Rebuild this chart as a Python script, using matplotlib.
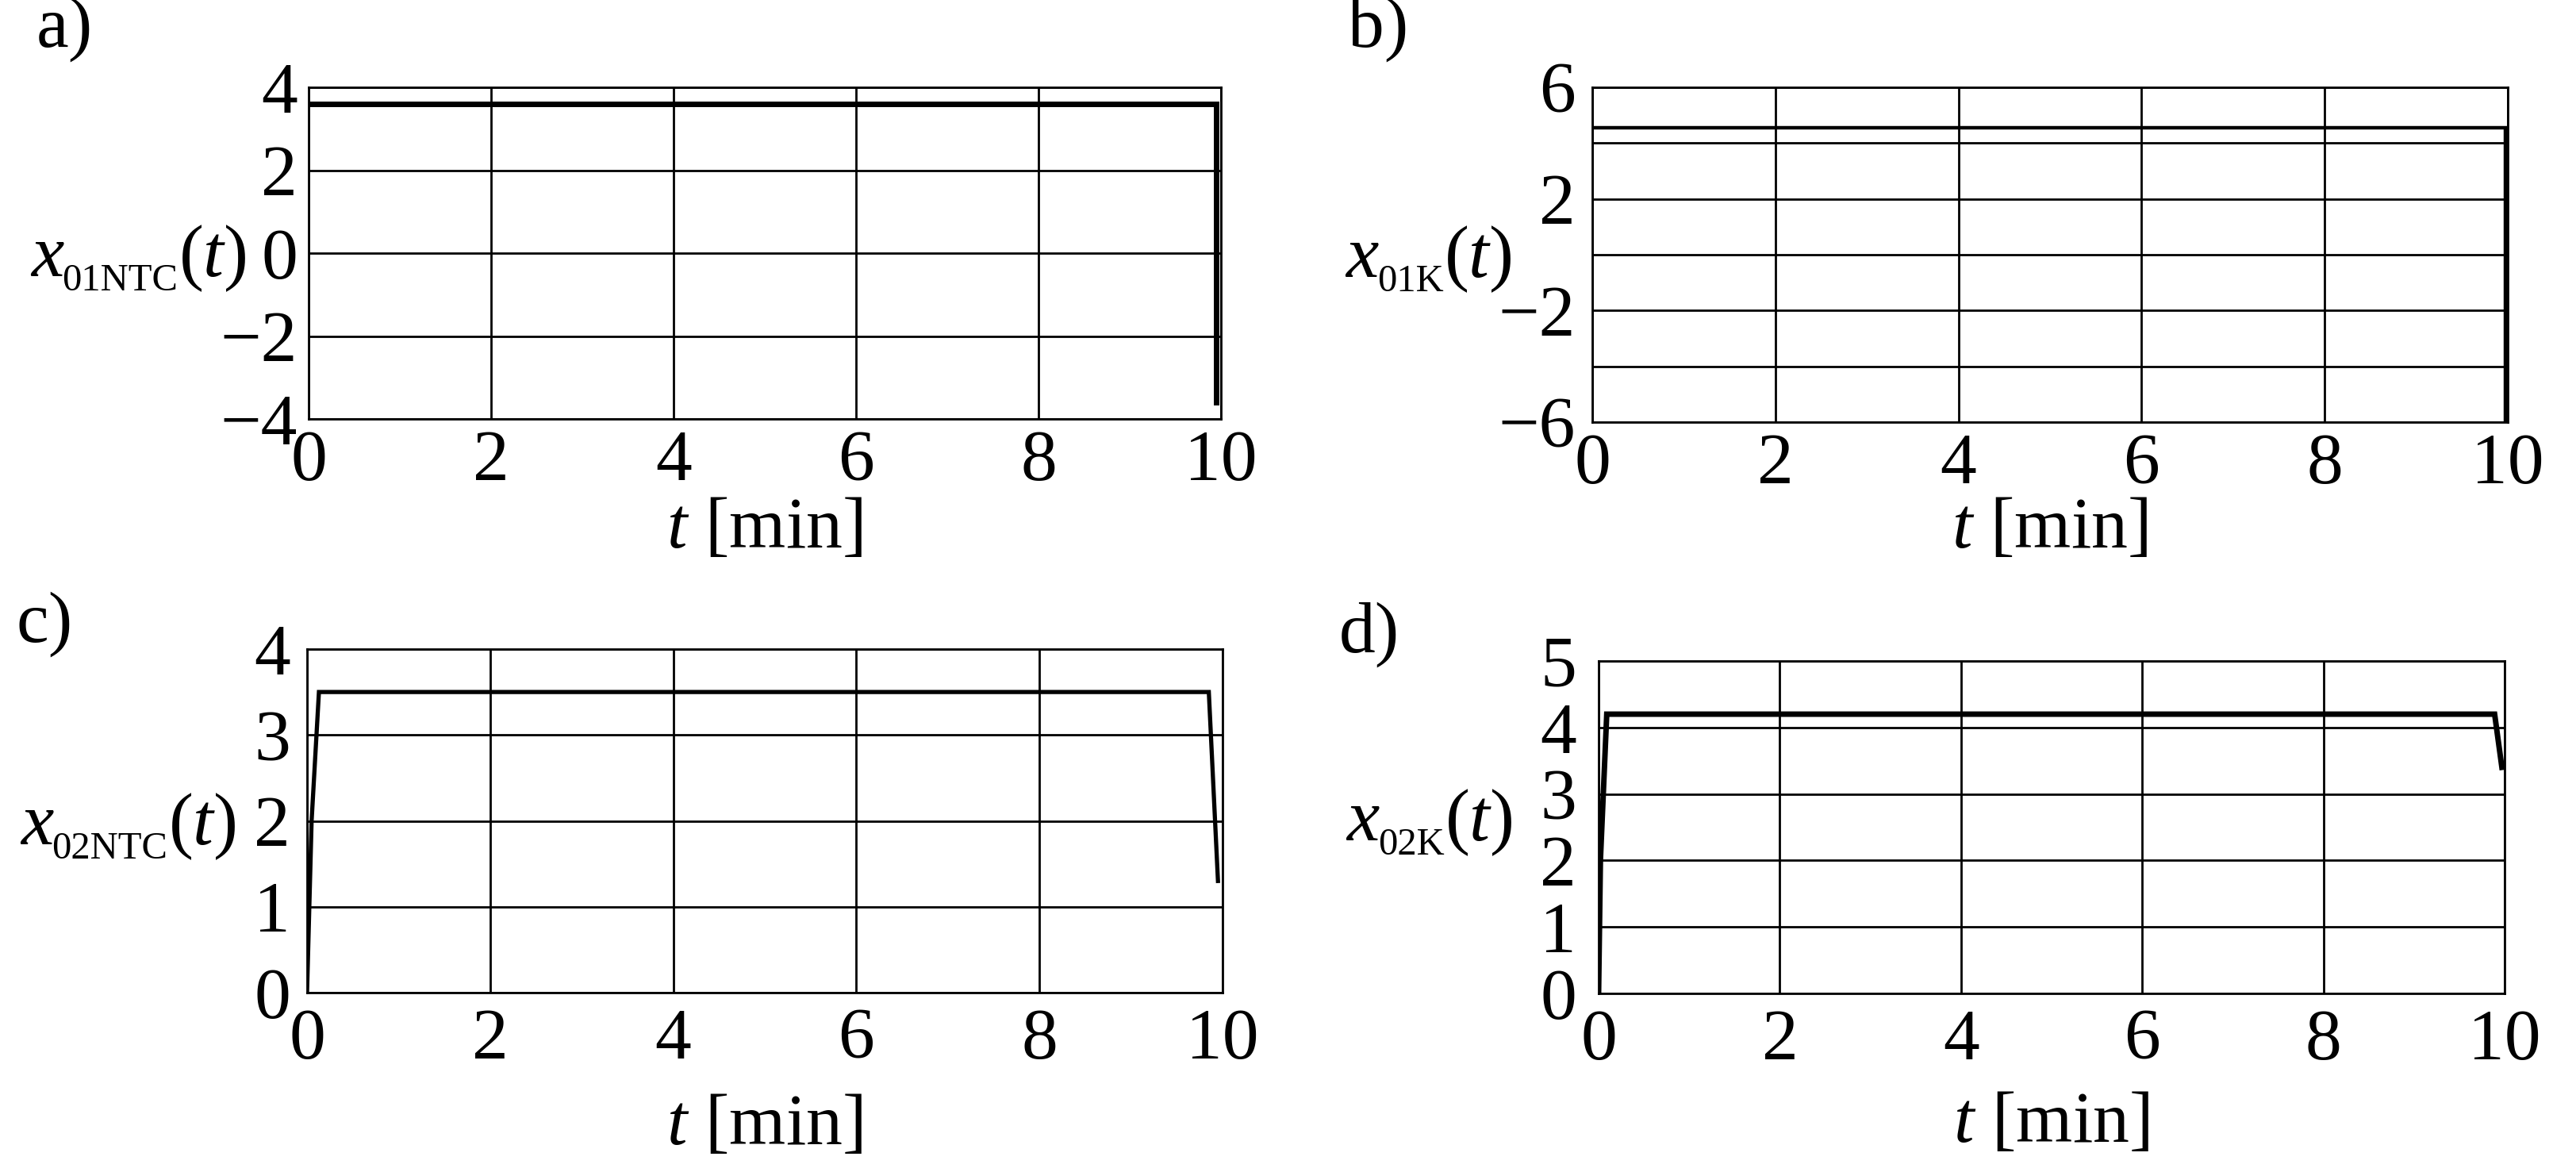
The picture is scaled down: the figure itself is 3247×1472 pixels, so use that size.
import matplotlib
matplotlib.use("Agg")
import matplotlib.pyplot as plt

plt.rcParams['font.family'] = ['Liberation Serif', 'DejaVu Serif']
plt.rcParams['mathtext.fontset'] = 'custom'
plt.rcParams['mathtext.rm'] = 'Liberation Serif'
plt.rcParams['mathtext.it'] = 'Liberation Serif:italic'

# ---- data ----
t_a = [0, 9.95, 9.95]
x_a = [3.6, 3.6, -3.6]
t_b = [0, 9.97, 9.97]
x_b = [4.55, 4.55, -6.5]
t_c = [0, 0.05, 0.13, 9.85, 9.9, 9.95]
x_c = [0, 2.0, 3.5, 3.5, 2.4, 1.3]
t_d = [0, 0.02, 0.09, 9.89, 9.97]
x_d = [0, 2.0, 4.2, 4.2, 3.4]

xticks = [0, 2, 4, 6, 8, 10]
yticks_a = [-4, -2, 0, 2, 4]
ylab_a = ['−4', '−2', '0', '2', '4']
yticks_b = [-6, -4, -2, 0, 2, 4, 6]
ylab_b = ['−6', '', '−2', '', '2', '', '6']
yticks_c = [0, 1, 2, 3, 4]
ylab_c = ['0', '1', '2', '3', '4']
yticks_d = [0, 1, 2, 3, 4, 5]
ylab_d = ['0', '1', '2', '3', '4', '5']

W, H = 3248, 1472
fig = plt.figure(figsize=(W / 100, H / 100), dpi=100)
renderer = fig.canvas.get_renderer()

FS = 66      # tick / axis label size
FL = 67      # y-label main size
FSUB = 35    # y-label subscript size

# (left, top, right, bottom) in pixels, from the top-left corner
boxes = [(389, 110, 1539, 528), (2007, 110, 3161, 532),
         (387, 818, 1541, 1251), (2015, 833, 3157, 1252)]

panels = [
    # t, x, ylim, yticks, yticklabels, subscript, label baseline value,
    # label right edge px, ytick pad, xtick pad, xlabel centre px,
    # line width, panel letter, letter pos
    (t_a, x_a, (-4, 4), yticks_a, ylab_a, '01NTC', -0.55, 311, 10, 10, 668,
     5.0, 'a)', (46, 37)),
    (t_b, x_b, (-6, 6), yticks_b, ylab_b, '01K', -0.8, 1906, 15, 10, 668,
     3.2, 'b)', (1699, 37)),
    (t_c, x_c, (0, 4), yticks_c, ylab_c, '02NTC', 1.73, 298, 15, 14, 1420,
     3.8, 'c)', (21, 787)),
    (t_d, x_d, (0, 5), yticks_d, ylab_d, '02K', 2.3, 1907, 20, 14, 1417,
     5.0, 'd)', (1688, 800)),
]

for (l, t, r, b), p in zip(boxes, panels):
    (tt, xx, yl, yt, ytl, sub, lab_y, lab_r, ypad, xpad, xlab_c,
     lw, plab, ppos) = p
    ax = fig.add_axes([l / W, 1 - b / H, (r - l) / W, (b - t) / H])
    ax.plot(tt, xx, color='black', lw=lw, solid_joinstyle='miter', zorder=3)
    ax.set_xlim(0, 10)
    ax.set_ylim(*yl)
    ax.set_xticks(xticks)
    ax.set_xticklabels([str(v) for v in xticks])
    ax.set_yticks(yt)
    ax.set_yticklabels(ytl)
    ax.tick_params(length=0, labelsize=FS)
    ax.tick_params(axis='x', pad=xpad)
    ax.tick_params(axis='y', pad=ypad)
    ax.grid(True, color='black', lw=2)
    for s in ax.spines.values():
        s.set_linewidth(2)
        s.set_color('black')
    ax.set_xlabel(r'$t$ [min]', fontsize=FS)
    ax.xaxis.label.set_va('center')
    ax.xaxis.set_label_coords(0.5, -(xlab_c - b) / (b - t))

    # composed y label: x_{sub}(t), horizontal, left of tick labels
    base = ax.transData.transform((0, lab_y))[1]
    t3 = fig.text(lab_r / W, base / H, r'$(t)$', ha='right', va='baseline',
                  fontsize=FL)
    bb3 = t3.get_window_extent(renderer)
    t2 = fig.text((bb3.x0 - 1) / W, (base - 18) / H, sub, ha='right',
                  va='baseline', fontsize=FSUB)
    bb2 = t2.get_window_extent(renderer)
    fig.text((bb2.x0 + 2) / W, base / H, 'x', ha='right', va='baseline',
             fontsize=FL, fontstyle='italic')

    fig.text(ppos[0] / W, 1 - ppos[1] / H, plab, fontsize=FS,
             ha='left', va='center')

fig.savefig('out.png', dpi=100, facecolor='white')
